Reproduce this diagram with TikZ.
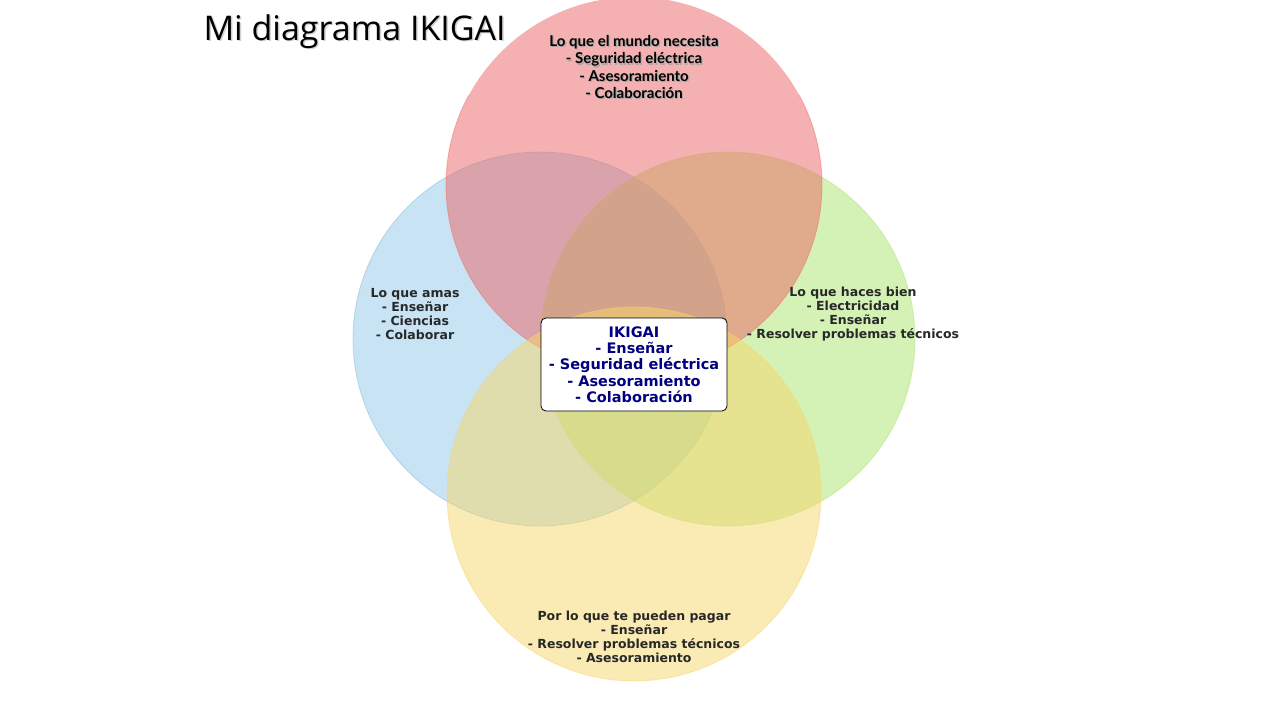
\documentclass[tikz,border=0pt]{standalone}
\usepackage{fontspec}
\setmainfont{DejaVu Sans}
\newfontfamily\titlefont{Open Sans}
\newfontfamily\topfont{Lato}
\usetikzlibrary{positioning}
\definecolor{cblue}{RGB}{145,201,235}
\definecolor{cgreen}{RGB}{170,228,110}
\definecolor{cred}{RGB}{237,101,101}
\definecolor{cyellow}{RGB}{247,215,105}
\definecolor{lbl}{RGB}{40,40,40}
\definecolor{navyc}{RGB}{0,0,128}
\tikzset{
  circ/.style={fill opacity=0.5, draw opacity=0.45, line width=0.8pt},
  sidelabel/.style={align=center, text=lbl, font=\fontsize{12.5}{14}\selectfont\bfseries, inner sep=0pt},
  toplabel/.style={align=center, font=\topfont\fontsize{15}{17.4}\selectfont\bfseries, inner sep=0pt},
  centerbox/.style={draw=black, fill=white, rounded corners=5pt, line width=0.8pt, minimum width=186pt, minimum height=93pt, align=center, text=navyc, font=\fontsize{14.5}{16.3}\selectfont\bfseries, inner sep=0pt}
}
\begin{document}
\begin{tikzpicture}[x=1pt,y=-1pt]
\useasboundingbox (0,0) rectangle (1280,720);
\fill[white] (0,0) rectangle (1280,720);
\begin{scope}
\clip (0,0) rectangle (1280,720);
\filldraw[circ, fill=cblue, draw=cblue!90!black] (540,339) circle (187);
\filldraw[circ, fill=cgreen, draw=cgreen] (728,339) circle (187);
\fill[circ, fill=cred] (634,185) circle (188);
\begin{scope}
\clip (0,95) rectangle (1280,720);
\draw[circ, draw=cred] (634,185) circle (188);
\end{scope}
\filldraw[circ, fill=cyellow, draw=cyellow] (634,494) circle (187);
\end{scope}
\node[anchor=base west, font=\titlefont\fontsize{34}{36}\selectfont, text=black!30, opacity=0.6] at (201.5,41.5) {Mi diagrama IKIGAI};
\node[anchor=base west, font=\titlefont\fontsize{34}{36}\selectfont, text=black] (title) at (200,40) {Mi diagrama IKIGAI};
\node[toplabel, text=black!35] at (635.2,68.2) {Lo que el mundo necesita\\- Seguridad eléctrica\\- Asesoramiento\\- Colaboración};
\node[toplabel, text=black] (mundo) at (634,67) {Lo que el mundo necesita\\- Seguridad eléctrica\\- Asesoramiento\\- Colaboración};
\node[sidelabel] (amas) at (415,314.5) {Lo que amas\\- Enseñar\\- Ciencias\\- Colaborar};
\node[sidelabel] (bien) at (853,314) {Lo que haces bien\\- Electricidad\\- Enseñar\\- Resolver problemas técnicos};
\node[sidelabel] (pagar) at (634,637) {Por lo que te pueden pagar\\- Enseñar\\- Resolver problemas técnicos\\- Asesoramiento};
\node[centerbox] (ikigai) at (634,364.5) {IKIGAI\\- Enseñar\\- Seguridad eléctrica\\- Asesoramiento\\- Colaboración};
\end{tikzpicture}
\end{document}
